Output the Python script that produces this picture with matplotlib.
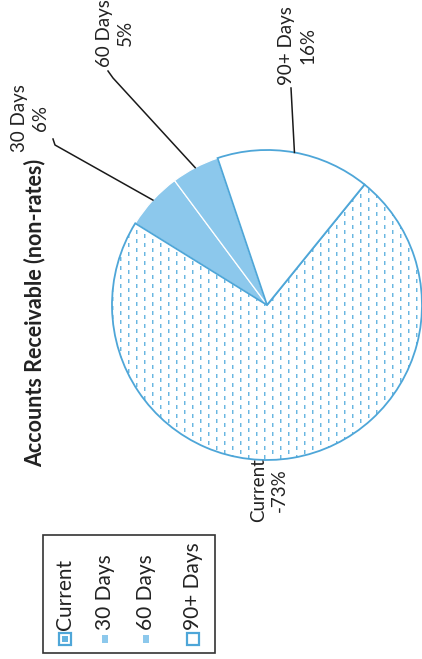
import numpy as np
import matplotlib.pyplot as plt
from matplotlib.colors import to_rgba
from matplotlib.patches import Rectangle

# ageing buckets and their share of the balance (%)
categories = ["Current", "30 Days", "60 Days", "90+ Days"]
shares = [73, 6, 5, 16]
sign_prefix = ["-", "", "", ""]

title = "Accounts Receivable (non-rates)"

W, H = 422, 659
edge_blue = "#4ea6d8"
dash_blue = "#62b3e0"
fill_blue = "#8cc8ec"
text_col = "#222222"
font = "Lato"

fig = plt.figure(figsize=(W / 100, H / 100), dpi=100)
ax = fig.add_axes([0, 0, 1, 1])

# the whole chart is laid out turned a quarter turn anticlockwise
center = (267, 354)
radius = 155

wedges, _ = ax.pie(
    shares,
    startangle=51,
    counterclock=False,
    center=center,
    radius=radius,
    colors=["none", fill_blue, fill_blue, "white"],
)
for i, w in enumerate(wedges):
    if i in (1, 2):
        w.set_edgecolor("white")
        w.set_linewidth(0.9)
        w.set_zorder(2)
    else:
        w.set_edgecolor(edge_blue)
        w.set_linewidth(1.3)
        w.set_zorder(3)

# short dash texture for the "Current" slice
yy, xx = np.mgrid[0:H, 0:W]
col_idx = xx // 8
rows = ((yy + (col_idx % 2) * 4) % 9) < 4
tex = np.zeros((H, W, 4))
tex[((xx % 8) == 0) & rows] = to_rgba(dash_blue, 0.95)
tex[((xx % 8) == 1) & rows] = to_rgba(dash_blue, 0.45)
im = ax.imshow(tex, extent=(0, W, 0, H), origin="upper",
               interpolation="nearest", zorder=1)
im.set_clip_path(wedges[0])

# data labels with leader lines to the middle of each slice arc
label_pos = [(269, H - 490), (30, H - 118), (115, H - 33), (297, H - 46)]
leader_start = [None,
                [(53, H - 139), (55, H - 145)],
                [(108, H - 71), (113, H - 78)],
                [(291, H - 88)]]
for i, w in enumerate(wedges):
    s = f"{categories[i]}\n{sign_prefix[i]}{shares[i]}%"
    ax.text(*label_pos[i], s, rotation=90, ha="center", va="center",
            multialignment="center", fontsize=13.5, family=font,
            color=text_col, linespacing=1.3)
    if leader_start[i] is None:
        continue
    mid = np.deg2rad((w.theta1 + w.theta2) / 2)
    tip = (center[0] + radius * np.cos(mid), center[1] + radius * np.sin(mid))
    pts = leader_start[i] + [tip]
    ax.plot([p[0] for p in pts], [p[1] for p in pts], color="#1a1a1a",
            lw=1.1, zorder=4)

ax.text(35, H - 313, title, rotation=90, ha="center", va="center",
        fontsize=15.5, fontweight="bold", family=font, color=text_col)

# legend box, entries stacked left to right
ax.add_patch(Rectangle((43, H - 653), 172, 118, fill=False,
                       edgecolor="#333333", lw=1.2, zorder=4))
leg_x = [65, 105, 146, 193]
for i, cat in enumerate(categories):
    ax.text(leg_x[i], H - 630, cat, rotation=90, ha="center", va="bottom",
            fontsize=15, family=font, color=text_col)
    if i == 0:
        ax.add_patch(Rectangle((leg_x[i] - 6, H - 645), 12, 12, facecolor="white",
                               edgecolor=edge_blue, lw=1.6, zorder=4))
        ax.add_patch(Rectangle((leg_x[i] - 3, H - 642), 6, 6, facecolor=dash_blue,
                               edgecolor="none", zorder=4))
    elif i == 3:
        ax.add_patch(Rectangle((leg_x[i] - 6, H - 645), 12, 12, facecolor="white",
                               edgecolor=edge_blue, lw=1.6, zorder=4))
    else:
        ax.add_patch(Rectangle((leg_x[i] - 3, H - 643), 6, 8, facecolor=fill_blue,
                               edgecolor="none", zorder=4))

ax.set_xlim(0, W)
ax.set_ylim(0, H)
ax.set_aspect("equal")
ax.axis("off")

fig.savefig("out.png", dpi=100)
